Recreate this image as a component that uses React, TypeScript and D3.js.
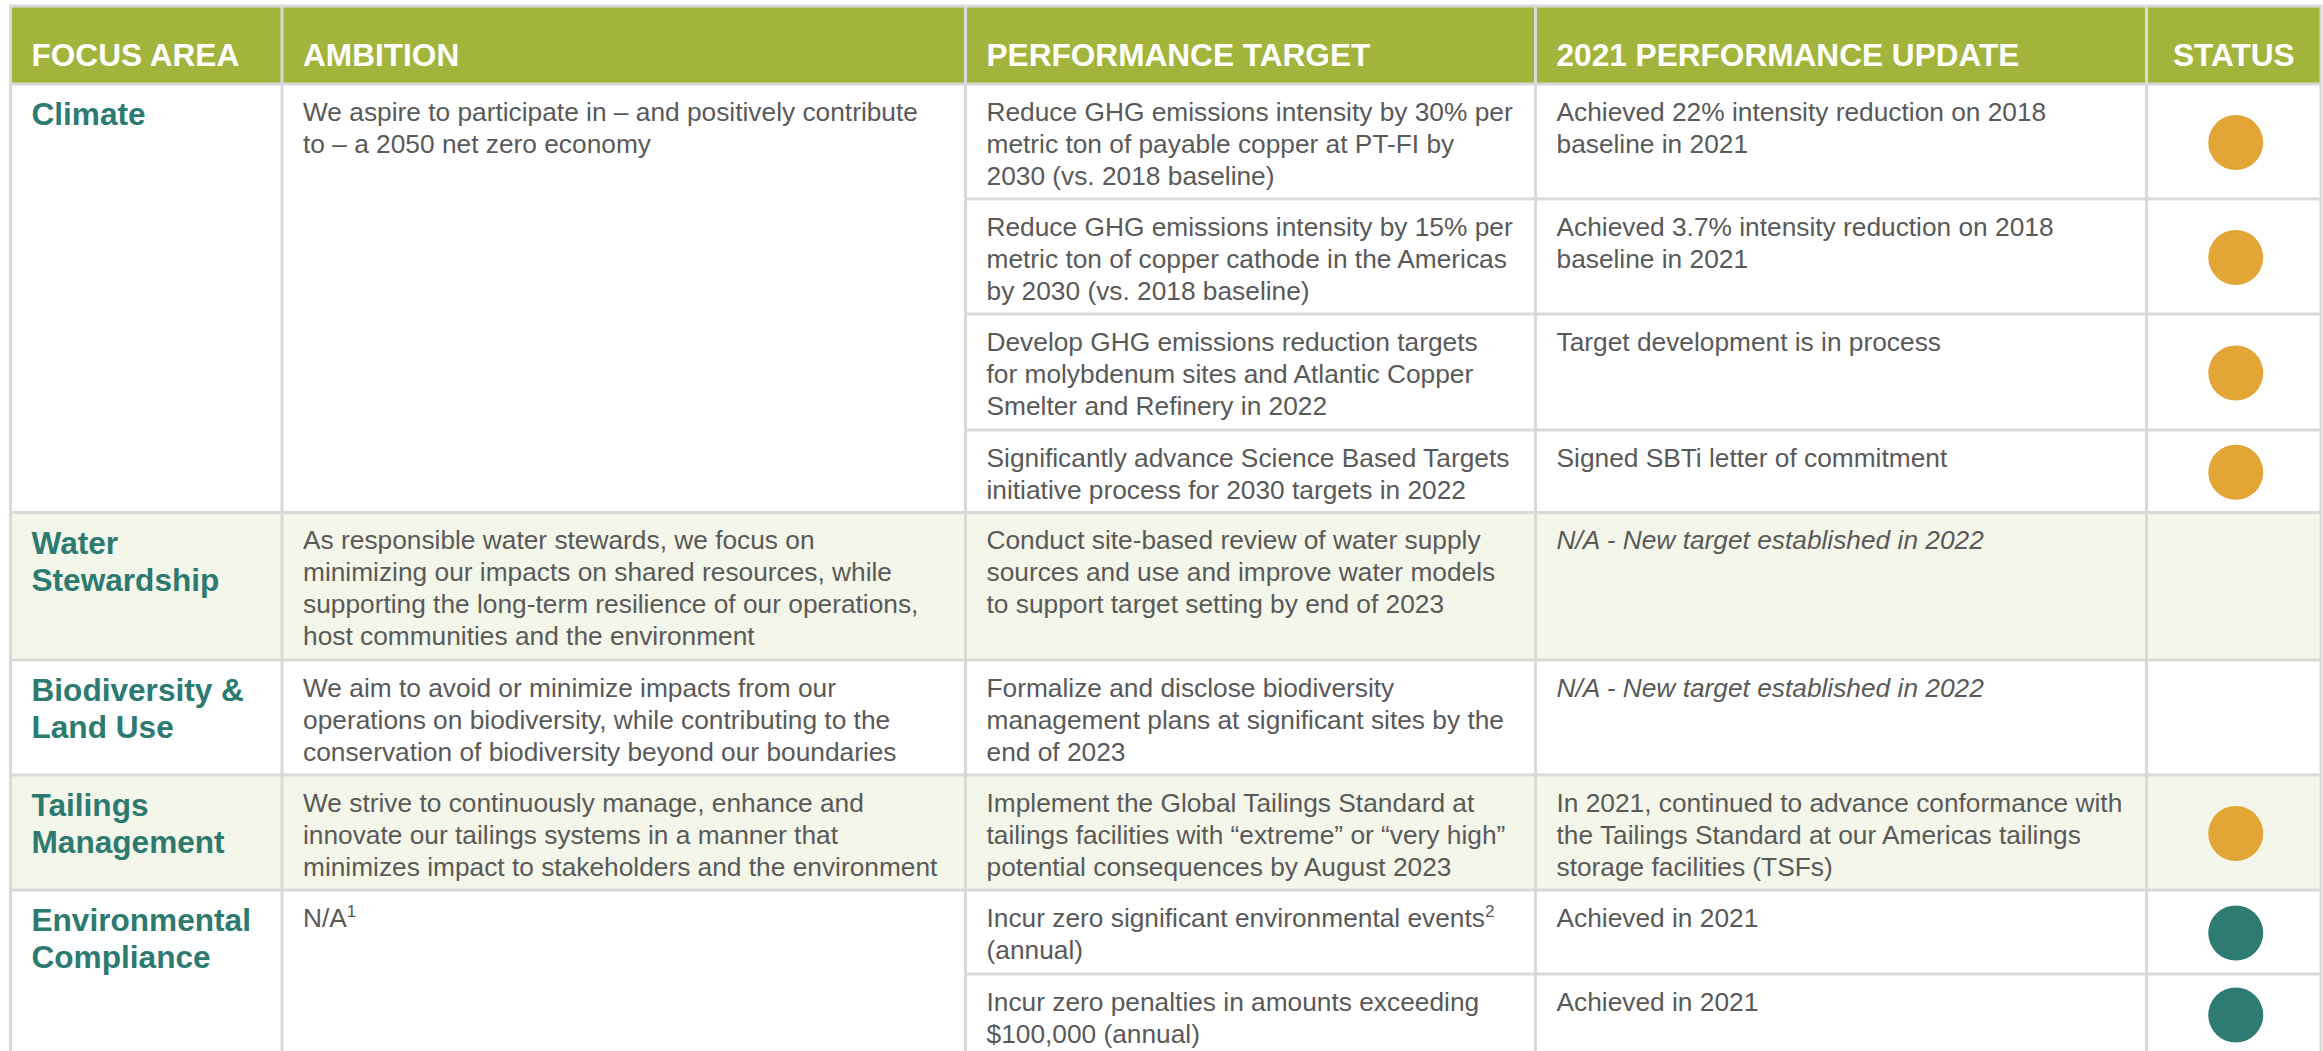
import React, { useEffect, useRef } from 'react';
import * as d3 from 'd3';

const headers = ["FOCUS AREA", "AMBITION", "PERFORMANCE TARGET", "2021 PERFORMANCE UPDATE", "STATUS"];

const focusAreas = [
  ["Climate"],
  ["Water", "Stewardship"],
  ["Biodiversity &", "Land Use"],
  ["Tailings", "Management"],
  ["Environmental", "Compliance"],
];

// "^" marks a superscript footnote at the end of a line
const ambitions = [
  ["We aspire to participate in \u2013 and positively contribute", "to \u2013 a 2050 net zero economy"],
  ["As responsible water stewards, we focus on", "minimizing our impacts on shared resources, while", "supporting the long-term resilience of our operations,", "host communities and the environment"],
  ["We aim to avoid or minimize impacts from our", "operations on biodiversity, while contributing to the", "conservation of biodiversity beyond our boundaries"],
  ["We strive to continuously manage, enhance and", "innovate our tailings systems in a manner that", "minimizes impact to stakeholders and the environment"],
  ["N/A^1"],
];

const targets = [
  ["Reduce GHG emissions intensity by 30% per", "metric ton of payable copper at PT-FI by", "2030 (vs. 2018 baseline)"],
  ["Reduce GHG emissions intensity by 15% per", "metric ton of copper cathode in the Americas", "by 2030 (vs. 2018 baseline)"],
  ["Develop GHG emissions reduction targets", "for molybdenum sites and Atlantic Copper", "Smelter and Refinery in 2022"],
  ["Significantly advance Science Based Targets", "initiative process for 2030 targets in 2022"],
  ["Conduct site-based review of water supply", "sources and use and improve water models", "to support target setting by end of 2023"],
  ["Formalize and disclose biodiversity", "management plans at significant sites by the", "end of 2023"],
  ["Implement the Global Tailings Standard at", "tailings facilities with \u201cextreme\u201d or \u201cvery high\u201d", "potential consequences by August 2023"],
  ["Incur zero significant environmental events^2", "(annual)"],
  ["Incur zero penalties in amounts exceeding", "$100,000 (annual)"],
];

const targetArea = [0, 0, 0, 0, 1, 2, 3, 4, 4];

const updates = [
  ["Achieved 22% intensity reduction on 2018", "baseline in 2021"],
  ["Achieved 3.7% intensity reduction on 2018", "baseline in 2021"],
  ["Target development is in process"],
  ["Signed SBTi letter of commitment"],
  ["N/A - New target established in 2022"],
  ["N/A - New target established in 2022"],
  ["In 2021, continued to advance conformance with", "the Tailings Standard at our Americas tailings", "storage facilities (TSFs)"],
  ["Achieved in 2021"],
  ["Achieved in 2021"],
];

const updateItalic = [false, false, false, false, true, true, false, false, false];

const statuses = ["progress", "progress", "progress", "progress", null, null, "progress", "achieved", "achieved"];

// layout
const W = 2323;
const H = 1051;
const colEdges = [10.5, 282, 965.5, 1535.5, 2146.5, 2321];
const headerTop = 6;
const headerBottom = 84;
const rowHeights = [115, 115, 116, 82.5, 147.5, 115, 115, 84, 80];

const GREEN = "#a3b43c";
const CREAM = "#f4f6ea";
const TEAL = "#2c7a70";
const LINE = "#d9d9d9";
const TEXT = "#595959";
const statusColor: Record<string, string> = { progress: "#e3a535", achieved: "#2e7b73" };
const FONT = "'Liberation Sans', Arial, sans-serif";

const App: React.FC = () => {
  const svgRef = useRef<SVGSVGElement>(null);

  useEffect(() => {
    if (!svgRef.current) return;
    const svg = d3.select(svgRef.current);
    svg.selectAll("*").remove();

    const tops = [headerBottom, ...Array.from(d3.cumsum(rowHeights)).map(v => headerBottom + v)];
    const rowTop = (i: number) => tops[i];
    const rowBottom = (i: number) => tops[i + 1];
    const colX = (c: number) => colEdges[c] + 21;

    const areaSpan = focusAreas.map((_, k) => {
      const idx = targetArea.map((a, i) => (a === k ? i : -1)).filter(i => i >= 0);
      return { top: rowTop(idx[0]), bottom: rowBottom(idx[idx.length - 1]) };
    });

    // backgrounds
    svg.append("rect")
      .attr("x", colEdges[0]).attr("y", headerTop)
      .attr("width", colEdges[5] - colEdges[0]).attr("height", headerBottom - headerTop)
      .attr("fill", GREEN);

    svg.append("g").selectAll("rect")
      .data(rowHeights)
      .join("rect")
      .attr("x", colEdges[0])
      .attr("y", (_, i) => rowTop(i))
      .attr("width", colEdges[5] - colEdges[0])
      .attr("height", (_, i) => rowBottom(i) - rowTop(i))
      .attr("fill", (_, i) => (targetArea[i] % 2 === 1 ? CREAM : "#ffffff"));

    // grid lines
    const lines = svg.append("g").attr("stroke", LINE).attr("stroke-width", 3);
    lines.append("line")
      .attr("x1", colEdges[0] - 1.5).attr("x2", colEdges[5] + 1.5)
      .attr("y1", headerTop).attr("y2", headerTop);
    lines.append("line")
      .attr("x1", colEdges[0]).attr("x2", colEdges[5])
      .attr("y1", headerBottom).attr("y2", headerBottom);
    rowHeights.forEach((_, i) => {
      const sameNext = i < rowHeights.length - 1 && targetArea[i + 1] === targetArea[i];
      lines.append("line")
        .attr("x1", sameNext ? colEdges[2] : colEdges[0]).attr("x2", colEdges[5])
        .attr("y1", rowBottom(i)).attr("y2", rowBottom(i));
    });
    colEdges.forEach(x => {
      lines.append("line")
        .attr("x1", x).attr("x2", x)
        .attr("y1", headerTop).attr("y2", rowBottom(rowHeights.length - 1));
    });

    // header texts
    svg.append("g").selectAll("text")
      .data(headers)
      .join("text")
      .attr("x", (_, i) => (i === 4 ? (colEdges[4] + colEdges[5]) / 2 : colX(i)))
      .attr("y", 66)
      .attr("text-anchor", (_, i) => (i === 4 ? "middle" : "start"))
      .attr("font-family", FONT)
      .attr("font-size", 31.6)
      .attr("font-weight", "bold")
      .attr("fill", "#ffffff")
      .text(d => d);

    const writeLines = (
      g: d3.Selection<SVGGElement, unknown, null, undefined>,
      linesText: string[], x: number, y0: number, step: number
    ) => {
      linesText.forEach((ln, j) => {
        const [main, sup] = ln.split("^");
        const t = g.append("text").attr("x", x).attr("y", y0 + j * step);
        t.append("tspan").text(main);
        if (sup) {
          t.append("tspan").attr("font-size", 17).attr("dy", -10).text(sup);
        }
      });
    };

    // focus area labels
    const fg = svg.append("g")
      .attr("font-family", FONT).attr("font-size", 31.6).attr("font-weight", "bold").attr("fill", TEAL);
    focusAreas.forEach((lbl, k) => writeLines(fg, lbl, colX(0), areaSpan[k].top + 41, 37));

    // body text
    const bg = svg.append("g").attr("font-family", FONT).attr("font-size", 26.3).attr("fill", TEXT);
    ambitions.forEach((a, k) => writeLines(bg, a, colX(1), areaSpan[k].top + 36.5, 32));
    targets.forEach((t, i) => writeLines(bg, t, colX(2), rowTop(i) + 36.5, 32));
    updates.forEach((u, i) => {
      const g = bg.append("g").attr("font-style", updateItalic[i] ? "italic" : "normal");
      writeLines(g, u, colX(3), rowTop(i) + 36.5, 32);
    });

    // status dots
    svg.append("g").selectAll("circle")
      .data(statuses.map((s, i) => ({ s, i })).filter(d => d.s))
      .join("circle")
      .attr("cx", (colEdges[4] + colEdges[5]) / 2 + 2)
      .attr("cy", d => (rowTop(d.i) + rowBottom(d.i)) / 2 + 1)
      .attr("r", 27.5)
      .attr("fill", d => statusColor[d.s as string]);
  }, []);

  return (
    <div style={{ position: "absolute", left: 0, top: 0, width: W, height: H, overflow: "hidden", background: "#ffffff" }}>
      <svg ref={svgRef} width={W} height={H} />
    </div>
  );
};

export default App;
